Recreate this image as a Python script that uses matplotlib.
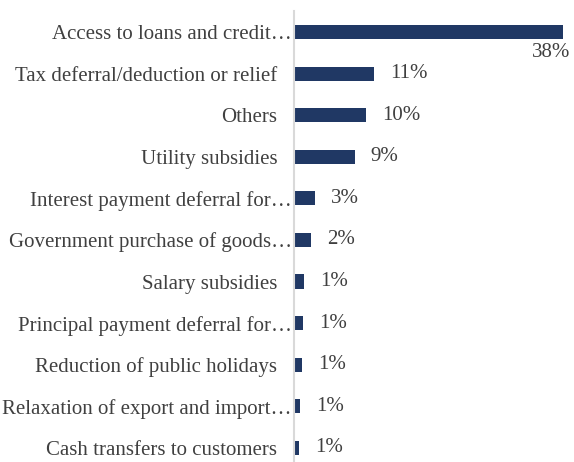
import matplotlib
matplotlib.use("Agg")
import matplotlib.pyplot as plt

categories = ["Access to loans and credit\u2026",
              "Tax deferral/deduction or relief",
              "Others",
              "Utility subsidies",
              "Interest payment deferral for\u2026",
              "Government purchase of goods\u2026",
              "Salary subsidies",
              "Principal payment deferral for\u2026",
              "Reduction of public holidays",
              "Relaxation of export and import\u2026",
              "Cash transfers to customers"]
values = [38.0, 11.3, 10.2, 8.6, 3.0, 2.4, 1.4, 1.3, 1.2, 0.9, 0.7]
labels = ["38%", "11%", "10%", "9%", "3%", "2%", "1%", "1%", "1%", "1%", "1%"]

plt.rcParams['font.family'] = ['Liberation Serif', 'DejaVu Serif']
txt = '#404040'
fs = 15

fig = plt.figure(figsize=(5.74, 4.62), dpi=100)
ax = fig.add_axes([294/574, 0, (563-294)/574, (462-11.2)/462])

ypos = list(range(len(categories)))
ax.barh(ypos, values, height=0.34, color='#203864')
ax.set_xlim(0, 38)
ax.set_ylim(10.34, -0.5)

ax.set_yticks(ypos)
ax.set_yticklabels(categories, fontsize=fs, color=txt)
ax.tick_params(axis='y', length=0)
for cat, tick in zip(categories, ax.yaxis.get_major_ticks()):
    tick.set_pad(1.5 if cat.endswith("\u2026") else 12)
ax.set_xticks([])

for s in ['top', 'right', 'bottom']:
    ax.spines[s].set_visible(False)
ax.spines['left'].set_color('#d9d9d9')
ax.spines['left'].set_linewidth(1.5)

for i, (v, lab) in enumerate(zip(values, labels)):
    if i == 0:
        ax.annotate(lab, xy=(v, i), xytext=(5, -15), textcoords='offset points',
                    ha='right', va='center', fontsize=fs, color=txt,
                    annotation_clip=False)
    else:
        ax.annotate(lab, xy=(v, i), xytext=(11.5, 0), textcoords='offset points',
                    ha='left', va='center', fontsize=fs, color=txt)

fig.savefig("out.png", dpi=100)
